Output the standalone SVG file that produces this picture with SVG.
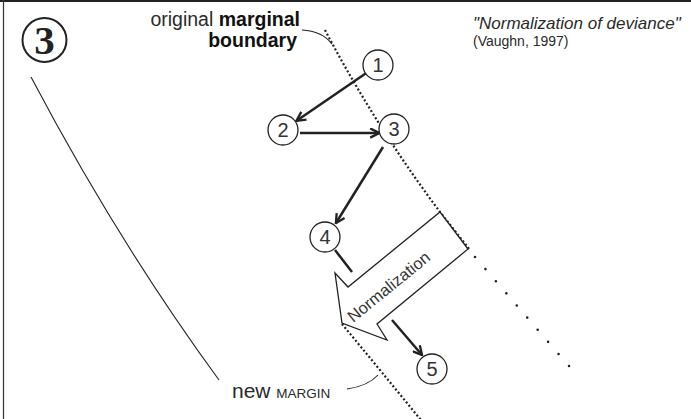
<svg xmlns="http://www.w3.org/2000/svg" width="691" height="419" viewBox="0 0 691 419">
<defs>
<style>
.txt{font-family:"Liberation Sans",Arial,Helvetica,sans-serif;fill:#2a2a2a}
.node circle{fill:#fff;stroke:#222;stroke-width:1.3}
.node text{font-family:"Liberation Sans",Arial,sans-serif;font-size:20px;fill:#333;text-anchor:middle}
.edge{fill:none;stroke:#222;stroke-width:2.5}
.thin{fill:none;stroke:#222;stroke-width:1.1}
.dots{fill:none;stroke:#222;stroke-width:2.2;stroke-dasharray:2 2.2}
</style>
<marker id="ah" viewBox="0 0 10 10" refX="8.8" refY="5" markerWidth="11" markerHeight="11" markerUnits="userSpaceOnUse" orient="auto">
<path d="M0.8,0.8 L9,5 L0.8,9.2" fill="none" stroke="#222" stroke-width="2.1"/>
</marker>
</defs>
<rect width="691" height="419" fill="#fff"/>
<g id="frame">
<line x1="0" y1="1" x2="691" y2="1" stroke="#222" stroke-width="2"/>
<line x1="3.5" y1="0" x2="3.5" y2="419" stroke="#333" stroke-width="1.2"/>
</g>
<g id="panel-number">
<circle cx="44.5" cy="40" r="22" fill="none" stroke="#222" stroke-width="2"/>
<text x="44.5" y="54" text-anchor="middle" style="font-family:'Liberation Serif','Times New Roman',serif;font-weight:bold;font-size:41px;fill:#222">3</text>
</g>
<g id="old-boundary">
<path class="dots" d="M325,30 Q375,125 440,212 L470,250"/>
<path d="M475,257 L570,367.2" fill="none" stroke="#222" stroke-width="2.6" stroke-linecap="round" stroke-dasharray="0 16"/>
</g>
<g id="left-curve">
<path class="thin" d="M31,77 Q118,242 219,380"/>
</g>
<g id="labels">
<text class="txt" x="300" y="26" text-anchor="end" style="font-size:19.5px">original <tspan style="font-weight:bold;fill:#111">marginal</tspan></text>
<text class="txt" x="297" y="47" text-anchor="end" style="font-size:19.5px;font-weight:bold;fill:#111">boundary</text>
<path class="thin" d="M302,30 Q322,31 332,44"/>
<text class="txt" x="473" y="29" style="font-size:17px;font-style:italic">"Normalization of deviance"</text>
<text class="txt" x="473" y="46" style="font-size:14px">(Vaughn, 1997)</text>
<text class="txt" x="232" y="398" style="font-size:21px">new <tspan style="font-size:13.5px">MARGIN</tspan></text>
<path class="thin" d="M347,389 Q368,386 378,375"/>
</g>
<g id="new-margin">
<path class="dots" d="M342,324 Q380,370 425,425"/>
</g>
<g id="connectors">
<line class="edge" x1="365.6" y1="73.5" x2="296.6" y2="120.7" marker-end="url(#ah)"/>
<line class="edge" x1="300" y1="133" x2="379" y2="133" marker-end="url(#ah)"/>
<line class="edge" x1="383" y1="147" x2="336" y2="223" marker-end="url(#ah)"/>
<line class="edge" x1="335" y1="250" x2="352" y2="272"/>
<line class="edge" x1="392" y1="320" x2="422" y2="355" marker-end="url(#ah)"/>
</g>
<g id="normalization-arrow">
<polygon points="440,212 468,249 377,324 387,340 342,323 335,273 348,287" fill="#fff" stroke="#222" stroke-width="1.3" stroke-linejoin="miter"/>
<text class="txt" x="388.5" y="292.5" text-anchor="middle" transform="rotate(-39.2 388.5 286.5)" style="font-size:16.5px;fill:#333">Normalization</text>
</g>
<g id="node1" class="node"><circle cx="378" cy="65" r="15"/><text x="378" y="72">1</text></g>
<g id="node2" class="node"><circle cx="283" cy="130" r="15"/><text x="283" y="137">2</text></g>
<g id="node3" class="node"><circle cx="394" cy="129" r="15"/><text x="394" y="136">3</text></g>
<g id="node4" class="node"><circle cx="325" cy="237" r="15"/><text x="325" y="244">4</text></g>
<g id="node5" class="node"><circle cx="432" cy="369" r="15"/><text x="432" y="376">5</text></g>
</svg>
